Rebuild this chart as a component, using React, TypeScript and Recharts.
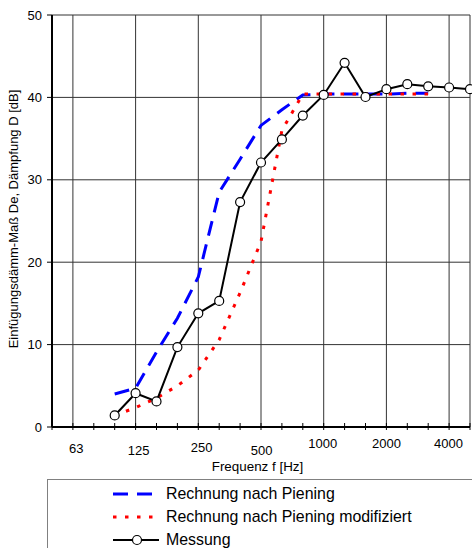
import { LineChart, Line, XAxis, YAxis, CartesianGrid } from 'recharts';

// third-octave band centre frequencies (Hz)
const BANDS = [50, 63, 80, 100, 125, 160, 200, 250, 315, 400, 500, 630, 800, 1000, 1250, 1600, 2000, 2500, 3150, 4000, 5000];
const OCTAVE_LABELS: Record<number, string> = { 1: "63", 4: "125", 7: "250", 10: "500", 13: "1000", 16: "2000", 19: "4000" };

// values from 100 Hz upwards
const PIENING = [4.0, 4.7, 9.1, 13.2, 18.2, 28.5, 32.5, 36.6, 38.5, 40.3, 40.4, 40.4, 40.4, 40.4, 40.5, 40.5];
const PIENING_MOD = [1.4, 2.35, 3.5, 5.0, 6.9, 10.6, 16.3, 22.5, 36.0, 40.4, 40.4, 40.4, 40.4, 40.4, 40.4, 40.4];
const MESSUNG = [1.4, 4.1, 3.1, 9.7, 13.8, 15.3, 27.3, 32.1, 34.9, 37.8, 40.3, 44.2, 40.05, 41.0, 41.6, 41.35, 41.2, 41.0];
const START = 3;

const Y_TICKS = [0, 10, 20, 30, 40, 50];

const FONT = '"Liberation Sans", Arial, sans-serif';

const data = BANDS.map((f, i) => ({
  i,
  f,
  pien: i >= START ? PIENING[i - START] ?? null : null,
  mod: i >= START ? PIENING_MOD[i - START] ?? null : null,
  mess: i >= START ? MESSUNG[i - START] ?? null : null,
}));

// tick labels in the original are slightly staggered
const LABEL_NUDGE: Record<number, [number, number]> = {
  1: [3.3, 25.5], 4: [3, 28], 7: [3.4, 24.7], 10: [0.7, 28], 13: [-1, 21.3], 16: [0, 21.3], 19: [-0.7, 21.3],
};

function FreqTick(props: any) {
  const { x, y, payload } = props;
  const label = OCTAVE_LABELS[payload.value];
  const nudge = LABEL_NUDGE[payload.value] || [0, 22];
  return (
    <g>
      <line x1={x} x2={x} y1={y - 4} y2={y + 3} stroke="#000" strokeWidth={1} />
      {label && (
        <text x={x + nudge[0]} y={y + nudge[1]} textAnchor="middle" fontSize={13} fill="#000" fontFamily={FONT}>
          {label}
        </text>
      )}
    </g>
  );
}

const SERIES = [
  { key: "pien", name: "Rechnung nach Piening", color: "#0000ff", width: 3, dash: "15 9" },
  { key: "mod", name: "Rechnung nach Piening modifiziert", color: "#ff0000", width: 3, dash: "3.5 8.5" },
  { key: "mess", name: "Messung", color: "#000000", width: 2, dash: undefined },
];

export default function App() {
  return (
    <div style={{ position: 'absolute', left: 0, top: 0, width: 472, height: 548, overflow: 'hidden', background: '#fff', fontFamily: FONT }}>
      <LineChart width={472} height={548} data={data} margin={{ top: 15, right: 2, left: 0, bottom: 71 }}>
        <CartesianGrid stroke="#333" strokeWidth={1} verticalValues={[1, 4, 7, 10, 13, 16, 19, 20]} />
        <XAxis
          type="number"
          dataKey="i"
          domain={[0, 20]}
          ticks={BANDS.map((_, i) => i)}
          interval={0}
          height={50}
          tickSize={0}
          tickMargin={0}
          tickLine={false}
          axisLine={{ stroke: '#000', strokeWidth: 2 }}
          tick={<FreqTick />}
          label={{
            content: ({ viewBox }: any) => (
              <text x={viewBox.x + viewBox.width / 2 - 3.5} y={viewBox.y + 44} textAnchor="middle" fontSize={13.4} fill="#000" fontFamily={FONT}>
                Frequenz f [Hz]
              </text>
            ),
          }}
        />
        <YAxis
          type="number"
          domain={[0, 50]}
          ticks={Y_TICKS}
          width={52}
          tickSize={5}
          tickMargin={5}
          axisLine={{ stroke: '#000', strokeWidth: 2 }}
          tickLine={{ stroke: '#000' }}
          tick={{ fill: '#000', fontSize: 13, fontFamily: FONT }}
          label={{
            content: ({ viewBox }: any) => {
              const cx = 18.3;
              const cy = viewBox.y + viewBox.height / 2 - 2;
              return (
                <text x={cx} y={cy} transform={`rotate(-90, ${cx}, ${cy})`} textAnchor="middle" fontSize={13} fill="#000" fontFamily={FONT}>
                  Einfügungsdämm-Maß De, Dämpfung D [dB]
                </text>
              );
            },
          }}
        />
        {SERIES.map((s) => (
          <Line
            key={s.key}
            type="linear"
            dataKey={s.key}
            name={s.name}
            stroke={s.color}
            strokeWidth={s.width}
            strokeDasharray={s.dash}
            dot={s.key === "mess" ? { r: 4.5, fill: '#fff', stroke: '#000', strokeWidth: 1.2 } : false}
            activeDot={false}
            isAnimationActive={false}
          />
        ))}
      </LineChart>
      <div style={{ position: 'absolute', left: 47, top: 479, width: 440, height: 90, border: '1px solid #808080', boxSizing: 'border-box' }}>
        {SERIES.map((s, idx) => (
          <div key={s.key} style={{ position: 'absolute', left: 64, top: 2 + idx * 23, height: 23, display: 'flex', alignItems: 'center', whiteSpace: 'nowrap' }}>
            <svg width={48} height={14} style={{ display: 'block' }}>
              <line x1={1} x2={47} y1={7} y2={7} stroke={s.color} strokeWidth={s.width} strokeDasharray={s.dash} />
              {s.key === "mess" && <circle cx={25} cy={7} r={4.5} fill="#fff" stroke="#000" strokeWidth={1.2} />}
            </svg>
            <span style={{ marginLeft: 6, fontSize: 15.9, color: '#000', lineHeight: '23px' }}>{s.name}</span>
          </div>
        ))}
      </div>
    </div>
  );
}
